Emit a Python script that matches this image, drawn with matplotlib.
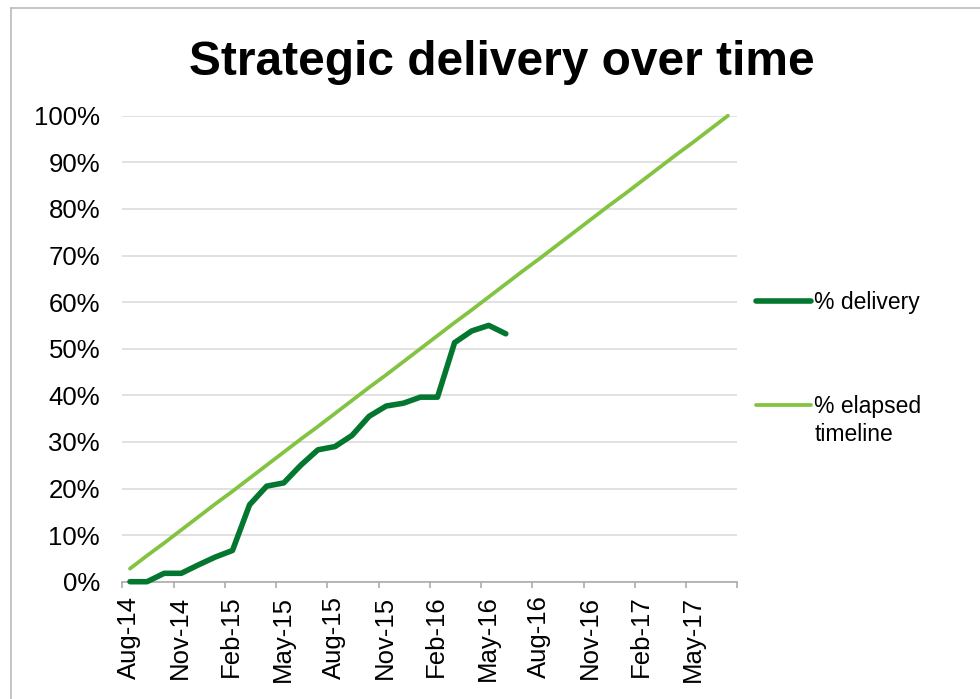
import matplotlib
matplotlib.use("Agg")
import matplotlib.pyplot as plt
from matplotlib.lines import Line2D

plt.rcParams['font.family'] = ['Liberation Sans', 'DejaVu Sans']

# ---- data ----
months = ['Aug-14', 'Sep-14', 'Oct-14', 'Nov-14', 'Dec-14', 'Jan-15',
          'Feb-15', 'Mar-15', 'Apr-15', 'May-15', 'Jun-15', 'Jul-15',
          'Aug-15', 'Sep-15', 'Oct-15', 'Nov-15', 'Dec-15', 'Jan-16',
          'Feb-16', 'Mar-16', 'Apr-16', 'May-16', 'Jun-16', 'Jul-16',
          'Aug-16', 'Sep-16', 'Oct-16', 'Nov-16', 'Dec-16', 'Jan-17',
          'Feb-17', 'Mar-17', 'Apr-17', 'May-17', 'Jun-17', 'Jul-17']
delivery_pct = [0, 0, 1.8, 1.8, 3.6, 5.3, 6.7, 16.5, 20.5, 21.2, 25.0, 28.3,
                29.0, 31.4, 35.5, 37.7, 38.3, 39.6, 39.6, 51.3, 53.8, 55.0, 53.2]
elapsed_pct = [2.8, 5.6, 8.3, 11.1, 13.9, 16.7, 19.4, 22.2, 25.0, 27.8, 30.6, 33.3,
               36.1, 38.9, 41.7, 44.4, 47.2, 50.0, 52.8, 55.6, 58.3, 61.1, 63.9, 66.7,
               69.4, 72.2, 75.0, 77.8, 80.6, 83.3, 86.1, 88.9, 91.7, 94.4, 97.2, 100.0]
y_ticks = [0, 10, 20, 30, 40, 50, 60, 70, 80, 90, 100]
series_labels = ['% delivery', '% elapsed']
label_cont = 'timeline'
title = 'Strategic delivery over time'

# ---- figure ----
W, H = 980, 699
fig = plt.figure(figsize=(W / 100, H / 100), dpi=100)
fig.patch.set_facecolor('white')
ax = fig.add_axes([122.3 / W, 1 - 581.7 / H, (737.3 - 122.3) / W, (581.7 - 115.7) / H])

off = 0.45
x_del = [i + off for i in range(len(delivery_pct))]
x_el = [i + off for i in range(len(elapsed_pct))]

dark = '#03772F'
light = '#82C341'
l1, = ax.plot(x_del, delivery_pct, color=dark, lw=4.0, solid_capstyle='round',
              solid_joinstyle='round', clip_on=False, zorder=4)
l2, = ax.plot(x_el, elapsed_pct, color=light, lw=2.7, solid_capstyle='round',
              solid_joinstyle='round', clip_on=False, zorder=3)

ax.set_xlim(0, len(months))
ax.set_ylim(0, 100)

ax.set_yticks(y_ticks)
ax.set_yticklabels([f'{v}%' for v in y_ticks])

# tick marks every 3 months (major, no labels); labels slightly right (minor, no marks)
xt = list(range(0, len(months) + 1, 3))
ax.set_xticks(xt)
ax.set_xticklabels([''] * len(xt))
lab_pos = [p + 0.38 for p in xt[:-1]]
ax.set_xticks(lab_pos, minor=True)
ax.set_xticklabels(months[::3], minor=True, rotation=90)

ax.grid(axis='y', color='#D9D9D9', lw=1.1)
ax.set_axisbelow(True)
for s in ['left', 'right', 'top']:
    ax.spines[s].set_visible(False)
ax.spines['bottom'].set_color('#A6A6A6')
ax.spines['bottom'].set_linewidth(1.1)
ax.spines['bottom'].set_zorder(2)

ax.tick_params(axis='y', length=0, pad=16, labelsize=18.5, labelcolor='black')
ax.tick_params(axis='x', which='major', length=4.5, width=1.1, color='#A6A6A6',
               direction='out')
ax.tick_params(axis='x', which='minor', length=0, pad=10, labelsize=18.5,
               labelcolor='black')

fig.text(502 / W, 1 - 75 / H, title, ha='center', va='baseline',
         fontsize=34.5, fontweight='bold')

leg = ax.legend([l1, l2], series_labels, loc='upper left',
                bbox_to_anchor=(756 / W, 1 - 291 / H), bbox_transform=fig.transFigure,
                frameon=False, fontsize=16.5, handlelength=2.4, handletextpad=0.15,
                labelspacing=3.55, borderpad=0, borderaxespad=0)

# continuation line of the second legend label
fig.canvas.draw()
t2 = leg.get_texts()[1]
bb = t2.get_window_extent(fig.canvas.get_renderer())
fig.text(bb.x0 / W, (bb.y0 - 28) / H, label_cont, ha='left', va='bottom',
         fontsize=16.5)

# chart-area border
bc = '#C0BAB5'
fig.add_artist(Line2D([10.5 / W, 10.5 / W], [0, 1 - 7.5 / H], color=bc, lw=1.2,
                      transform=fig.transFigure))
fig.add_artist(Line2D([10.5 / W, 1.0], [1 - 7.5 / H, 1 - 7.5 / H], color=bc, lw=1.2,
                      transform=fig.transFigure))

fig.savefig('out.png', dpi=100, facecolor='white')
